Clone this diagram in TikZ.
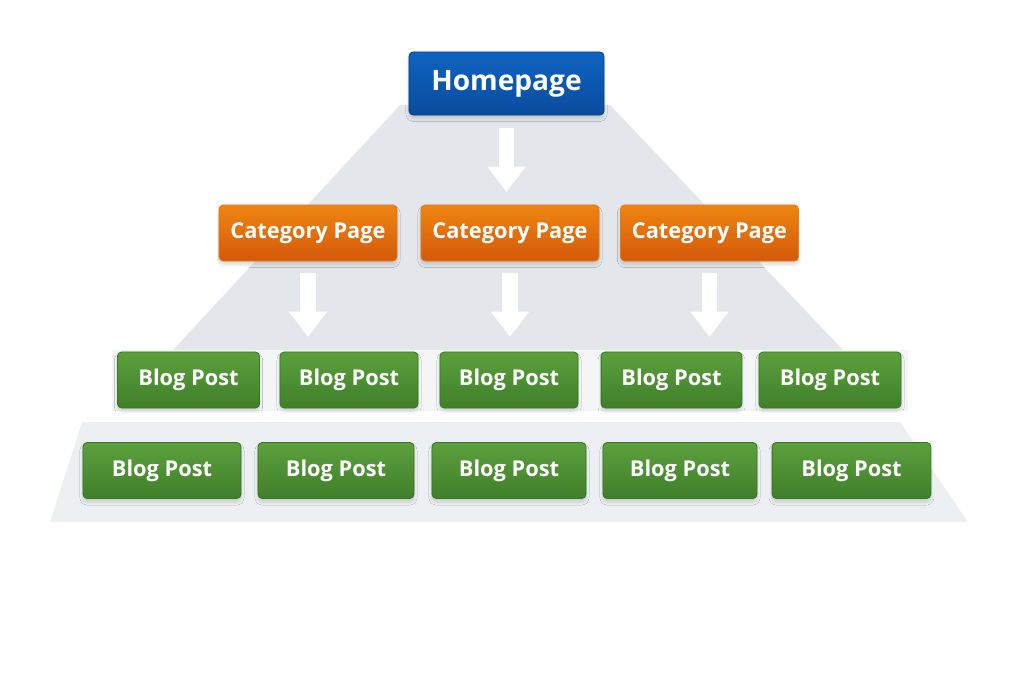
\documentclass[tikz,border=0pt]{standalone}
\usepackage{fontspec}
\setmainfont{Open Sans}
\usepackage{tikz}
\usetikzlibrary{arrows.meta, shadows.blur}
\definecolor{pyrgrey}{HTML}{E3E7EC}
\definecolor{bandgrey}{HTML}{F3F5F7}
\definecolor{basegrey}{HTML}{EDF0F3}
\definecolor{bluetop}{HTML}{0E63C0}
\definecolor{bluebot}{HTML}{0A4C9E}
\definecolor{blueline}{HTML}{083F87}
\definecolor{orangetop}{HTML}{EE8512}
\definecolor{orangebot}{HTML}{D5590A}
\definecolor{orangeline}{HTML}{E27A1C}
\definecolor{greentop}{HTML}{5CA03D}
\definecolor{greenbot}{HTML}{3F7F2A}
\definecolor{greenline}{HTML}{3A7526}

\begin{document}
\begin{tikzpicture}[
            x=0.025cm, y=-0.025cm,
            box/.style={
                rectangle,
                rounded corners=3pt,
                line width=0.6pt,
                align=center,
                text=white,
                font=\bfseries,
                blur shadow={shadow xshift=0pt, shadow yshift=-2.5pt, shadow opacity=15, shadow blur steps=8}
            },
            homebox/.style={box, minimum width=4.875cm, minimum height=1.575cm,
                draw=blueline, top color=bluetop, bottom color=bluebot,
                font=\bfseries\fontsize{20}{24}\selectfont},
            catbox/.style={box, minimum width=4.45cm, minimum height=1.4cm,
                draw=orangeline, top color=orangetop, bottom color=orangebot,
                font=\bfseries\fontsize{15.5}{18}\selectfont},
            postbox/.style={box, minimum height=1.4cm,
                draw=greenline, top color=greentop, bottom color=greenbot,
                font=\bfseries\fontsize{15.5}{18}\selectfont},
            blockarrow/.style={
                draw=white, line width=10.7pt,
                -{Triangle[width=26pt, length=18pt]},
                preaction={draw=black!10, transform canvas={xshift=1.2pt, yshift=-1pt}}
            }
        ]
        \useasboundingbox (0,0) rectangle (1024,683);

        % pyramid behind the tree
        \fill[pyrgrey]  (400,105) -- (610,105) -- (843,350) -- (173,350) -- cycle;
        \fill[bandgrey] (112,350) rectangle (908,411);
        \fill[basegrey] (82,422) -- (900,422) -- (968,522) -- (50,522) -- cycle;

        \node[homebox] (home) at (506.5, 83.5) {Homepage};

        \node[catbox] (cat1) at (308, 233)   {Category Page};
        \node[catbox] (cat2) at (510, 233)   {Category Page};
        \node[catbox] (cat3) at (709.5, 233) {Category Page};

        \node[postbox, minimum width=3.55cm] (post1) at (188.5, 380) {Blog Post};
        \node[postbox, minimum width=3.45cm] (post2) at (349, 380)   {Blog Post};
        \node[postbox, minimum width=3.45cm] (post3) at (509, 380)   {Blog Post};
        \node[postbox, minimum width=3.52cm] (post4) at (671.5, 380) {Blog Post};
        \node[postbox, minimum width=3.55cm] (post5) at (830, 380)   {Blog Post};

        \node[postbox, minimum width=3.95cm] (post6)  at (162, 470.5)   {Blog Post};
        \node[postbox, minimum width=3.9cm]  (post7)  at (336, 470.5)   {Blog Post};
        \node[postbox, minimum width=3.85cm] (post8)  at (509, 470.5)   {Blog Post};
        \node[postbox, minimum width=3.85cm] (post9)  at (680, 470.5)   {Blog Post};
        \node[postbox, minimum width=3.97cm] (post10) at (851.5, 470.5) {Blog Post};

        % arrow ends
        \coordinate (tip0) at (506.5, 192);
        \coordinate (tip1) at (308, 337);
        \coordinate (tip2) at (510, 337);
        \coordinate (tip3) at (709.5, 337);

        \draw[blockarrow, shorten <=9pt] (home) -- (tip0);
        \draw[blockarrow, shorten <=8.5pt] (cat1) -- (tip1);
        \draw[blockarrow, shorten <=8.5pt] (cat2) -- (tip2);
        \draw[blockarrow, shorten <=8.5pt] (cat3) -- (tip3);
        \end{tikzpicture}
\end{document}
